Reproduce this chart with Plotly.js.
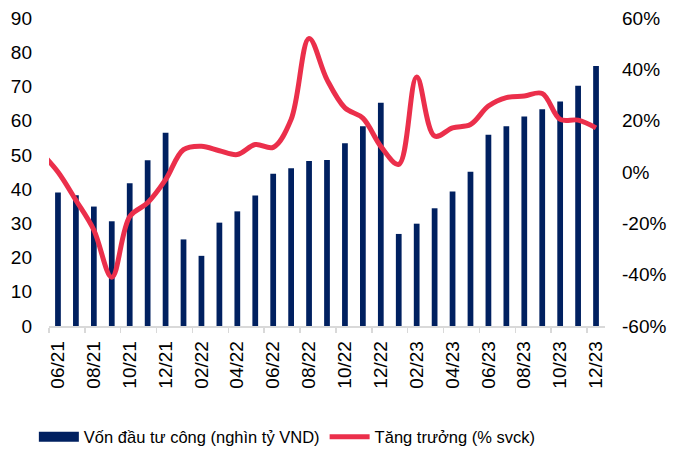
<!DOCTYPE html>
<html>
<head>
<meta charset="utf-8">
<script src="https://cdn.plot.ly/plotly-3.0.1.min.js"></script>
<style>
  html, body { margin: 0; padding: 0; background: #fff; }
  #chart { width: 691px; height: 452px; }
</style>
</head>
<body>
<div id="chart"></div>
<script>
// months shown on the axis (06/21 .. 12/23)
const months = [
  "06/21", "07/21", "08/21", "09/21", "10/21", "11/21", "12/21",
  "01/22", "02/22", "03/22", "04/22", "05/22", "06/22", "07/22", "08/22",
  "09/22", "10/22", "11/22", "12/22", "01/23", "02/23", "03/23", "04/23",
  "05/23", "06/23", "07/23", "08/23", "09/23", "10/23", "11/23", "12/23"
];

// Vốn đầu tư công (nghìn tỷ VND)
const capital = [
  39.0, 38.2, 34.9, 30.6, 41.7, 48.4, 56.5,
  25.3, 20.5, 30.2, 33.5, 38.1, 44.5, 46.1, 48.2,
  48.5, 53.4, 58.4, 65.2, 26.9, 29.9, 34.4, 39.3,
  45.1, 55.9, 58.4, 61.2, 63.3, 65.6, 70.2, 76.0
];

// Tăng trưởng (% svck); the line begins one month earlier (05/21)
const growthStart = 8;
const growth = [
  0, -11, -22.6, -41, -17.4, -12, -3,
  8.7, 10, 8.3, 6.8, 10.7, 9.6, 20.5, 52,
  36, 25, 21, 10, 3, 37, 14, 17.2,
  18.5, 25.7, 29, 29.6, 30.6, 20.5, 20.2, 17.2
];

// right axis ticks (hyphen minus, as in the source chart)
const pctVals = [-60, -40, -20, 0, 20, 40, 60];
const pctText = ["-60%", "-40%", "-20%", "0%", "20%", "40%", "60%"];

const idx = months.map((m, i) => i);
const lineX = [-1].concat(idx);
const lineY = [growthStart].concat(growth);

// labels every second month, ticks on the category boundaries
const labelVals = idx.filter(i => i % 2 === 0);
const labelText = labelVals.map(i => months[i]);
const boundaryVals = labelVals.map(i => i - 0.5);

const navy = "#002060";
const red = "#EB2F4B";
const axisGray = "#D9D9D9";
const font = "Liberation Sans, Arial, sans-serif";

const traces = [
  {
    type: "bar",
    name: "Vốn đầu tư công (nghìn tỷ VND)",
    x: idx,
    y: capital,
    width: 0.32,
    marker: { color: navy },
    yaxis: "y",
    showlegend: false
  },
  // legend-only entry so the bar key is drawn as a wide block
  {
    type: "scatter",
    mode: "lines",
    name: "Vốn đầu tư công (nghìn tỷ VND)",
    x: [null],
    y: [null],
    line: { color: navy, width: 11 },
    yaxis: "y",
    hoverinfo: "skip"
  },
  {
    type: "scatter",
    mode: "lines",
    name: "Tăng trưởng (% svck)",
    x: lineX,
    y: lineY,
    line: { color: red, width: 5, shape: "spline", smoothing: 1 },
    yaxis: "y2"
  }
];

const layout = {
  width: 691,
  height: 452,
  margin: { l: 49, r: 86, t: 18, b: 126 },
  paper_bgcolor: "#fff",
  plot_bgcolor: "#fff",
  font: { family: font, size: 19, color: "#000" },
  showlegend: true,
  legend: {
    orientation: "h",
    xref: "container",
    x: 0.049,
    xanchor: "left",
    yref: "container",
    y: 0.033,
    yanchor: "middle",
    font: { family: font, size: 16.5, color: "#000" },
    itemwidth: 40,
    traceorder: "normal"
  },
  xaxis: {
    range: [-0.5, 30.5],
    tickmode: "array",
    tickvals: labelVals,
    ticktext: labelText,
    tickangle: -90,
    ticks: "",
    showline: true,
    linecolor: axisGray,
    linewidth: 1.5,
    showgrid: false,
    zeroline: false,
    ticklabelstandoff: 6,
    minor: {
      tickmode: "array",
      tickvals: boundaryVals,
      ticks: "outside",
      ticklen: 5,
      tickcolor: axisGray,
      tickwidth: 1.5,
      showgrid: false
    }
  },
  yaxis: {
    range: [0, 90],
    dtick: 10,
    showgrid: false,
    zeroline: false,
    showline: false,
    ticks: "",
    ticklabelstandoff: 16
  },
  yaxis2: {
    overlaying: "y",
    side: "right",
    range: [-60, 60],
    tickmode: "array",
    tickvals: pctVals,
    ticktext: pctText,
    showgrid: false,
    zeroline: false,
    showline: false,
    ticks: "",
    ticklabelstandoff: 16
  }
};

Plotly.newPlot("chart", traces, layout, { displayModeBar: false, staticPlot: true });
</script>
</body>
</html>
